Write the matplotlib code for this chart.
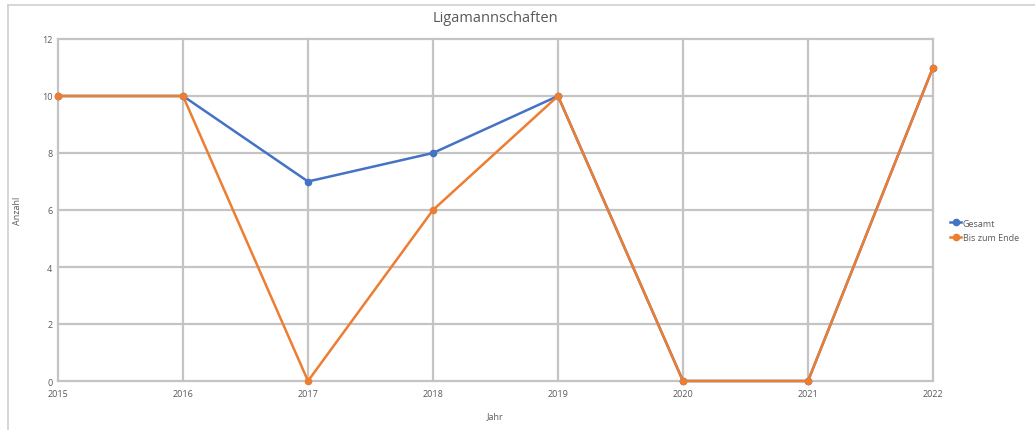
import matplotlib
matplotlib.use("Agg")
import matplotlib.pyplot as plt
from matplotlib.lines import Line2D

years = [2015, 2016, 2017, 2018, 2019, 2020, 2021, 2022]
gesamt = [10, 10, 7, 8, 10, 0, 0, 11]
bis_zum_ende = [10, 10, 0, 6, 10, 0, 0, 11]
series_names = ["Gesamt", "Bis zum Ende"]
yticks = [0, 2, 4, 6, 8, 10, 12]

plt.rcParams['font.family'] = ['Open Sans', 'DejaVu Sans']

fig = plt.figure(figsize=(10.35, 4.31), dpi=100)
ax = fig.add_axes([58/1035, 1-382/431, (933-58)/1035, (382-40)/431])

grid_c = "#c4c4c4"
text_c = "#595959"

ax.plot(years, gesamt, color="#4472C4", lw=1.8, marker="o", ms=4.5, label=series_names[0], zorder=3, clip_on=False)
ax.plot(years, bis_zum_ende, color="#ED7D31", lw=1.8, marker="o", ms=4.5, label=series_names[1], zorder=4, clip_on=False)

ax.set_xlim(2015, 2022)
ax.set_ylim(0, 12)
ax.set_xticks(years)
ax.set_yticks(yticks)
ax.set_axisbelow(True)
ax.grid(True, color=grid_c, lw=1.6)
for gl in ax.get_xgridlines() + ax.get_ygridlines():
    gl.set_clip_on(False)
for s in ax.spines.values():
    s.set_visible(False)
ax.tick_params(length=0, labelsize=6.5, labelcolor=text_c)
ax.tick_params(axis='x', pad=6)
ax.tick_params(axis='y', pad=4)

ax.set_title("Ligamannschaften", fontsize=10.5, color=text_c, pad=13)
ax.set_xlabel("Jahr", fontsize=6.5, color=text_c, labelpad=9)
ax.set_ylabel("Anzahl", fontsize=6.5, color=text_c, labelpad=14)

ax.legend(loc="center left", bbox_to_anchor=(1.0, 0.44), frameon=False, fontsize=6.5,
          labelcolor=text_c, handlelength=1.2, handletextpad=0.2, borderaxespad=1.5,
          labelspacing=0.65)

# chart border (top and left visible)
fig.add_artist(Line2D([8/1035, 1], [1-6/431, 1-6/431], color="#d0d0d0", lw=1.2, transform=fig.transFigure))
fig.add_artist(Line2D([8/1035, 8/1035], [0, 1-6/431], color="#d0d0d0", lw=1.2, transform=fig.transFigure))

fig.savefig("out.png", dpi=100, facecolor="white")
